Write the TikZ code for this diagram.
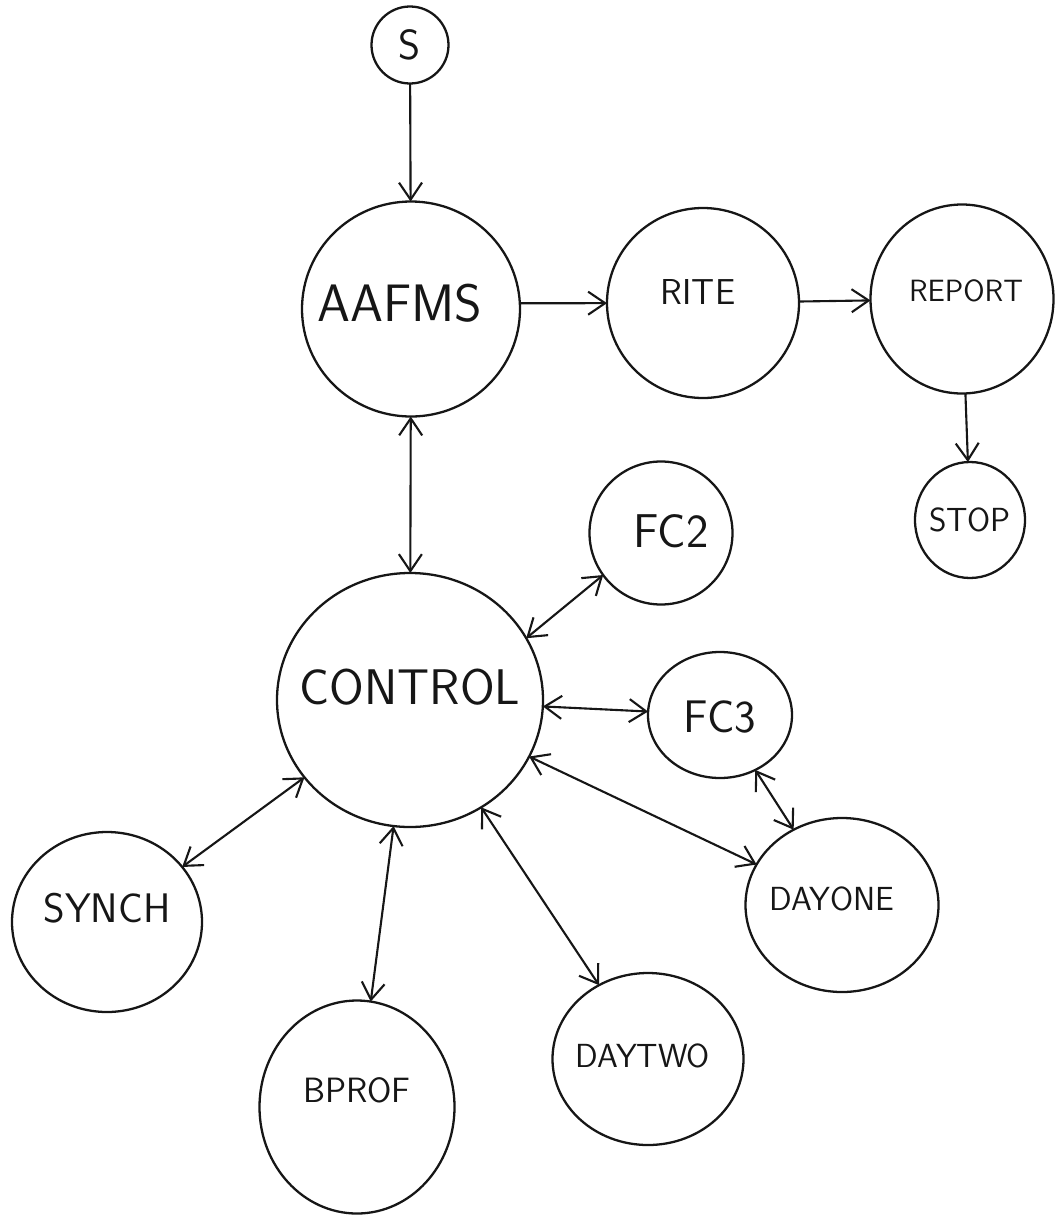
\documentclass[tikz,border=0pt]{standalone}
\usepackage{fontspec}
\usepackage{xcolor}
\definecolor{penink}{RGB}{22, 22, 22}
\usepackage{tikz}
\usetikzlibrary{arrows.meta, positioning, shapes.geometric}

\newcommand{\lettering}[1]{\fontsize{#1}{#1}\selectfont\sffamily}

\begin{document}
\begin{tikzpicture}[x=0.02cm, y=-0.02cm, >={Straight Barb[length=3.4mm, width=4.6mm]},
    bubble/.style={ellipse, draw=penink, line width=1.3pt, inner sep=0pt, outer sep=0pt},
    dims/.style 2 args={minimum width=#1*0.02cm, minimum height=#2*0.02cm},
    word/.style={font=\lettering{#1}, text=penink},
    link/.style={penink, line width=1.2pt}]
    \useasboundingbox (0,0) rectangle (1055,1217);

    \node[bubble, dims={77}{77}, label={[word=24pt]center:S}] (s) at (410,45) {};
    \node[bubble, dims={218}{215}, label={[word=30pt, shift={(-2.2mm,1.2mm)}]center:AAFMS}] (aafms) at (411,309) {};
    \node[bubble, dims={192}{190}, label={[word=20.5pt, shift={(-1mm,2.2mm)}]center:RITE}] (rite) at (703,303) {};
    \node[bubble, dims={183}{189}, label={[word=17.5pt, shift={(0.8mm,1.6mm)}]center:REPORT}] (report) at (962,299) {};
    \node[bubble, dims={110}{116}, label={[word=19pt]center:STOP}] (stop) at (970,520) {};
    \node[bubble, dims={143}{143}, label={[word=27pt, shift={(2mm,0.4mm)}]center:FC2}] (fc2) at (661,533) {};
    \node[bubble, dims={266}{254}, label={[word=28.5pt, shift={(0mm,2.6mm)}]center:CONTROL}] (control) at (410,700) {};
    \node[bubble, dims={144}{126}, label={[word=26pt, shift={(0mm,-0.4mm)}]center:FC3}] (fc3) at (720,715) {};
    \node[bubble, dims={190}{180}, label={[word=23.5pt, shift={(0mm,2.8mm)}]center:SYNCH}] (synch) at (107,922) {};
    \node[bubble, dims={193}{174}, label={[word=19pt, shift={(-2mm,1.2mm)}]center:DAYONE}] (dayone) at (842,905) {};
    \node[bubble, dims={195}{213}, label={[word=20pt, shift={(0mm,3.4mm)}]center:BPROF}] (bprof) at (357,1107) {};
    \node[bubble, dims={191}{172}, label={[word=19pt, shift={(-1mm,0.6mm)}]center:DAYTWO}] (daytwo) at (648,1059) {};

    \draw[link, ->] (s) -- (aafms);
    \draw[link, ->] (aafms.3) -- (rite);
    \draw[link, ->] (rite) -- (report);
    \draw[link, ->] (report) -- (stop);
    \draw[link, <->] (aafms) -- (control);
    \draw[link, <->] (control.28) -- (fc2.216);
    \draw[link, <->] (control) -- (fc3);
    \draw[link, <->] (fc3) -- (dayone);
    \draw[link, <->] (control) -- (dayone);
    \draw[link, <->] (control) -- (synch);
    \draw[link, <->] (control) -- (bprof);
    \draw[link, <->] (control) -- (daytwo);
\end{tikzpicture}
\end{document}
